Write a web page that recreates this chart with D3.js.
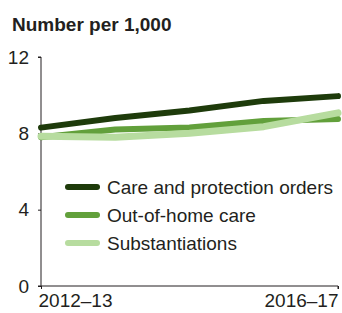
<!DOCTYPE html>
<html>
<head>
<meta charset="utf-8">
<script src="https://cdn.jsdelivr.net/npm/d3@7"></script>
<style>
  body { margin: 0; background: #fff; }
  text { font-family: "Liberation Sans", Arial, sans-serif; fill: #231f20; }
</style>
</head>
<body>
<div id="chart-area"></div>
<script>
const years = ["2012–13", "2013–14", "2014–15", "2015–16", "2016–17"];
const careOrders = [8.3, 8.8, 9.2, 9.7, 9.95];
const outOfHome = [7.8, 8.2, 8.3, 8.65, 8.75];
const substantiations = [7.85, 7.8, 8.0, 8.35, 9.07];
const yTicks = [0, 4, 8, 12];
const xTickLabels = ["2012–13", "2016–17"];

const series = [
  { name: "Care and protection orders", values: careOrders, color: "#1e3b0b", width: 6 },
  { name: "Out-of-home care", values: outOfHome, color: "#62a03b", width: 6 },
  { name: "Substantiations", values: substantiations, color: "#b7dc9f", width: 7 },
];

const width = 342;
const height = 313;

const svg = d3
  .select("#chart-area")
  .append("svg")
  .attr("width", width)
  .attr("height", height);

const x = d3.scalePoint().domain(years).range([41, 338]);
const y = d3.scaleLinear().domain([0, 12]).range([286, 57]);

svg
  .append("text")
  .attr("x", 12)
  .attr("y", 31)
  .style("font-size", "19px")
  .style("font-weight", "bold")
  .text("Number per 1,000");

// y axis
const yAxis = svg
  .append("g")
  .attr("transform", `translate(${x.range()[0]},0)`)
  .call(d3.axisLeft(y).tickValues(yTicks).tickSize(3).tickPadding(9));
yAxis.select(".domain").attr("stroke", "#231f20").attr("d", `M-3,${y(12)}H0V${y(0)}`);
yAxis.selectAll(".tick line").attr("stroke", "#231f20");
yAxis
  .selectAll(".tick text")
  .style("font-size", "19px")
  .style("font-family", "Liberation Sans, Arial, sans-serif")
  .attr("fill", "#231f20");

// x axis
const xAxis = svg
  .append("g")
  .attr("transform", `translate(0,${y(0)})`)
  .call(d3.axisBottom(x).tickValues(xTickLabels).tickSize(3).tickPadding(5));
xAxis.select(".domain").attr("stroke", "#231f20").attr("d", `M${x.range()[0] - 3},0H${x.range()[1]}V3`);
xAxis.selectAll(".tick line").attr("stroke", "#231f20");
xAxis
  .selectAll(".tick text")
  .style("font-size", "19px")
  .style("font-family", "Liberation Sans, Arial, sans-serif")
  .attr("fill", "#231f20")
  .attr("text-anchor", (d, i) => (i === 0 ? "start" : "end"))
  .attr("dx", (d, i) => (i === 0 ? -3 : 0));

const line = d3
  .line()
  .x((d, i) => x(years[i]))
  .y((d) => y(d));

svg
  .append("g")
  .selectAll("path")
  .data(series)
  .join("path")
  .attr("d", (d) => line(d.values))
  .attr("fill", "none")
  .attr("stroke", (d) => d.color)
  .attr("stroke-width", (d) => d.width)
  .attr("stroke-linecap", "round")
  .attr("stroke-linejoin", "round");

const legend = svg
  .append("g")
  .attr("transform", "translate(68, 187)");

legend
  .selectAll("line")
  .data(series)
  .join("line")
  .attr("x1", 0)
  .attr("x2", 29)
  .attr("y1", (d, i) => i * 28)
  .attr("y2", (d, i) => i * 28)
  .attr("stroke", (d) => d.color)
  .attr("stroke-width", 6)
  .attr("stroke-linecap", "round");

legend
  .selectAll("text")
  .data(series)
  .join("text")
  .attr("x", 39)
  .attr("y", (d, i) => i * 28 + 7)
  .style("font-size", "19px")
  .text((d) => d.name);
</script>
</body>
</html>
